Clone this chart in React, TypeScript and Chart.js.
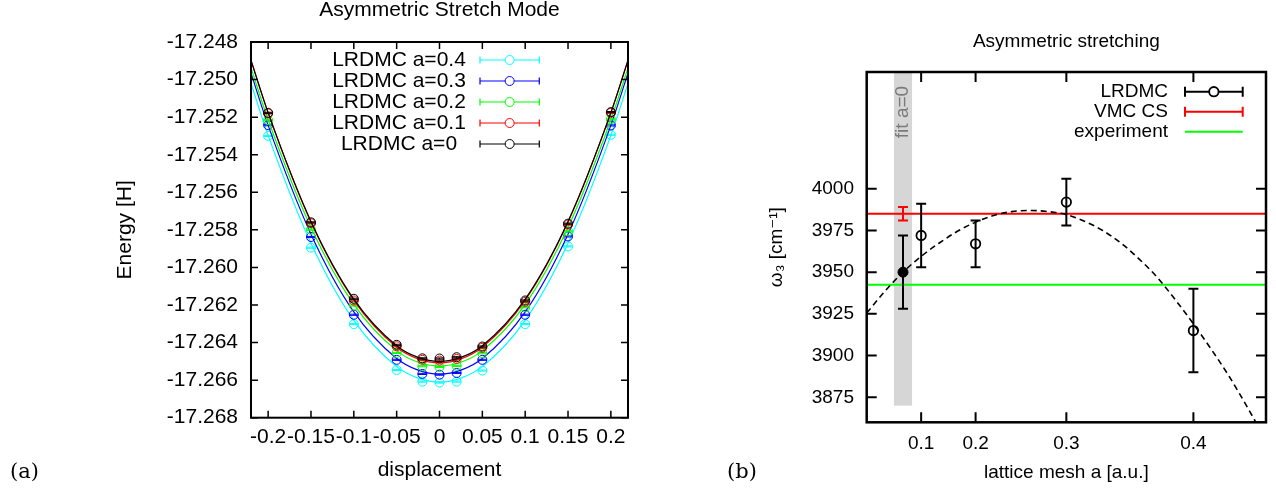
import React, { useEffect, useRef } from "react";
import { Chart, registerables } from "chart.js";

Chart.register(...registerables);

const FONT = "'Liberation Sans', Arial, 'DejaVu Sans', sans-serif";
Chart.defaults.font.family = FONT;
Chart.defaults.color = "#000";

// ---------------- Panel (a): Asymmetric Stretch Mode ----------------
const DISP = [-0.2, -0.15, -0.1, -0.05, -0.02, 0, 0.02, 0.05, 0.1, 0.15, 0.2];
const E_A0 = [-17.25177, -17.2576, -17.26167, -17.26412, -17.26484, -17.26485, -17.26478, -17.26421, -17.26176, -17.25767, -17.25173];
const E_A01 = [-17.2518, -17.25765, -17.26176, -17.2642, -17.26492, -17.26496, -17.26487, -17.26428, -17.26183, -17.25772, -17.25177];
const E_A02 = [-17.25216, -17.25799, -17.26203, -17.26455, -17.26526, -17.2653, -17.26524, -17.26457, -17.26212, -17.25808, -17.25212];
const E_A03 = [-17.25243, -17.25838, -17.26252, -17.26492, -17.26567, -17.26571, -17.26562, -17.26492, -17.26252, -17.25835, -17.25244];
const E_A04 = [-17.253, -17.25895, -17.26302, -17.26546, -17.26608, -17.26613, -17.26608, -17.26549, -17.26302, -17.25888, -17.25294];
const E_ERR = 0.00003;

const FIT_X = [-0.22, -0.2, -0.15, -0.1, -0.05, -0.025, 0, 0.025, 0.05, 0.1, 0.15, 0.2, 0.22];
const FIT_A0 = [-17.24898, -17.25176, -17.25755, -17.26169, -17.26417, -17.26479, -17.265, -17.26479, -17.26417, -17.26169, -17.25755, -17.25176, -17.24898];
const FIT_A01 = [-17.24897, -17.25177, -17.25759, -17.26175, -17.26425, -17.26487, -17.26508, -17.26487, -17.26425, -17.26175, -17.25759, -17.25177, -17.24897];
const FIT_A02 = [-17.24938, -17.25214, -17.25787, -17.26197, -17.26443, -17.26505, -17.26525, -17.26505, -17.26443, -17.26197, -17.25787, -17.25214, -17.24938];
const FIT_A03 = [-17.24966, -17.25244, -17.25823, -17.26237, -17.26485, -17.26547, -17.26568, -17.26547, -17.26485, -17.26237, -17.25823, -17.25244, -17.24966];
const FIT_A04 = [-17.25021, -17.25297, -17.25871, -17.26282, -17.26528, -17.26589, -17.2661, -17.26589, -17.26528, -17.26282, -17.25871, -17.25297, -17.25021];

const DISP_TICKS = [-0.2, -0.15, -0.1, -0.05, 0, 0.05, 0.1, 0.15, 0.2];
const ENERGY_TICKS = [-17.268, -17.266, -17.264, -17.262, -17.26, -17.258, -17.256, -17.254, -17.252, -17.25, -17.248];

// ---------------- Panel (b): Asymmetric stretching ----------------
const MESH_A = [0.1, 0.2, 0.3, 0.4];
const OMEGA = [3972, 3967, 3992, 3915];
const OMEGA_ERR = [19, 14, 14, 25];
const OMEGA_A0 = [3950];
const OMEGA_A0_ERR = [22];
const VMC_CS = [3985];
const VMC_CS_ERR = [4];
const EXPERIMENT = 3942.5;
// dashed fit curve, x in units of a^2
const FIT_CURVE_A2 = [-0.02, -0.01, 0, 0.01, 0.02, 0.03, 0.04, 0.05, 0.06, 0.07, 0.08, 0.09, 0.1, 0.11, 0.12, 0.13, 0.14, 0.15, 0.16, 0.17, 0.18, 0.19, 0.2];
const FIT_CURVE_W = [3925.5, 3938.5, 3950, 3959.5, 3967.5, 3974.5, 3980, 3984, 3986.3, 3987, 3986.3, 3984.5, 3980.5, 3975, 3967.5, 3958, 3947, 3933.5, 3919, 3903.5, 3887, 3868.5, 3849];
const MESH_TICKS = [0.1, 0.2, 0.3, 0.4];
const OMEGA_TICKS = [3875, 3900, 3925, 3950, 3975, 4000];
const BAND_A2 = [-0.005, 0.005];
const BAND_BOTTOM = 3870;

// ---------------- plugins ----------------
const errPlugin = {
  id: "errBars",
  afterDatasetDraw(chart: any, args: any) {
    const ds = chart.data.datasets[args.index];
    if (!ds.errors) return;
    const { ctx, chartArea } = chart;
    const ys = chart.scales.y;
    ctx.save();
    ctx.beginPath();
    ctx.rect(chartArea.left, chartArea.top, chartArea.right - chartArea.left, chartArea.bottom - chartArea.top);
    ctx.clip();
    ctx.strokeStyle = ds.borderColor;
    ctx.lineWidth = ds.errorWidth || 1;
    args.meta.data.forEach((el: any, j: number) => {
      const p = ds.data[j];
      const e = ds.errors[j];
      const y0 = ys.getPixelForValue(p.y - e);
      const y1 = ys.getPixelForValue(p.y + e);
      const x = el.x;
      const c = ds.capHalf || 4;
      ctx.beginPath();
      ctx.moveTo(x, y0); ctx.lineTo(x, y1);
      ctx.moveTo(x - c, y0); ctx.lineTo(x + c, y0);
      ctx.moveTo(x - c, y1); ctx.lineTo(x + c, y1);
      ctx.stroke();
    });
    ctx.restore();
  },
};

const framePlugin = {
  id: "gnuFrame",
  afterDatasetsDraw(chart: any, _a: any, opts: any) {
    const { ctx, chartArea } = chart;
    const { left, right, top, bottom } = chartArea;
    const xs = chart.scales.x, ys = chart.scales.y;
    const L = opts.tickLen;
    ctx.save();
    ctx.strokeStyle = "#000";
    ctx.lineWidth = opts.tickWidth;
    ctx.beginPath();
    for (const t of xs.ticks) {
      const px = xs.getPixelForValue(t.value);
      ctx.moveTo(px, bottom); ctx.lineTo(px, bottom - L);
      ctx.moveTo(px, top); ctx.lineTo(px, top + L);
    }
    for (const t of ys.ticks) {
      const py = ys.getPixelForValue(t.value);
      ctx.moveTo(left, py); ctx.lineTo(left + L, py);
      ctx.moveTo(right, py); ctx.lineTo(right - L, py);
    }
    ctx.stroke();
    ctx.lineWidth = opts.frameWidth;
    ctx.strokeRect(left, top, right - left, bottom - top);
    ctx.restore();
  },
};

const keyPlugin = {
  id: "gnuKey",
  afterDraw(chart: any, _a: any, opts: any) {
    const ctx = chart.ctx;
    ctx.save();
    ctx.font = `${opts.fontSize}px ${FONT}`;
    ctx.textBaseline = "middle";
    ctx.textAlign = opts.textAlign;
    const entries: number[] = opts.entries;
    for (let row = 0; row < entries.length; row++) {
      const ds = chart.data.datasets[entries[row]];
      const y = opts.top + row * opts.rowH;
      ctx.fillStyle = "#000";
      ctx.fillText(ds.label, opts.textX, y);
      ctx.strokeStyle = ds.borderColor;
      ctx.lineWidth = opts.lineWidth;
      ctx.beginPath();
      ctx.moveTo(opts.x0, y); ctx.lineTo(opts.x1, y);
      if (ds.errors) {
        ctx.moveTo(opts.x0, y - opts.capH); ctx.lineTo(opts.x0, y + opts.capH);
        ctx.moveTo(opts.x1, y - opts.capH); ctx.lineTo(opts.x1, y + opts.capH);
      }
      ctx.stroke();
      if (ds.pointRadius > 0) {
        const cx = (opts.x0 + opts.x1) / 2;
        ctx.beginPath();
        ctx.arc(cx, y, ds.pointRadius, 0, Math.PI * 2);
        ctx.fillStyle = "#fff";
        ctx.fill();
        ctx.lineWidth = ds.pointBorderWidth;
        ctx.stroke();
      }
    }
    ctx.restore();
  },
};

const bandPlugin = {
  id: "fitBand",
  beforeDatasetsDraw(chart: any, _a: any, opts: any) {
    const { ctx, chartArea } = chart;
    const xs = chart.scales.x, ys = chart.scales.y;
    const xa = xs.getPixelForValue(BAND_A2[0]);
    const xb = xs.getPixelForValue(BAND_A2[1]);
    const yb = ys.getPixelForValue(BAND_BOTTOM);
    ctx.save();
    ctx.fillStyle = "#d6d6d6";
    ctx.fillRect(xa, chartArea.top, xb - xa, yb - chartArea.top);
    ctx.translate((xa + xb) / 2, ys.getPixelForValue(opts.textValue));
    ctx.rotate(-Math.PI / 2);
    ctx.font = `${opts.fontSize}px ${FONT}`;
    ctx.fillStyle = "#7a7a7a";
    ctx.textAlign = "center";
    ctx.textBaseline = "middle";
    ctx.fillText(opts.text, 0, 0);
    ctx.restore();
  },
};

function fmtDisp(v: number) {
  const n = Number(v);
  if (Math.abs(n) < 1e-9) return "0";
  return String(parseFloat(n.toFixed(2)));
}

function leftConfig(): any {
  const series = [
    { label: "LRDMC a=0", color: "#000000", e: E_A0, fit: FIT_A0 },
    { label: "LRDMC a=0.1", color: "#ff0000", e: E_A01, fit: FIT_A01 },
    { label: "LRDMC a=0.2", color: "#00ff00", e: E_A02, fit: FIT_A02 },
    { label: "LRDMC a=0.3", color: "#0000ff", e: E_A03, fit: FIT_A03 },
    { label: "LRDMC a=0.4", color: "#00ffff", e: E_A04, fit: FIT_A04 },
  ];
  const datasets: any[] = [];
  series.forEach((s) => {
    datasets.push({
      label: s.label,
      data: DISP.map((x, i) => ({ x, y: s.e[i] })),
      showLine: false,
      borderColor: s.color,
      backgroundColor: "rgba(0,0,0,0)",
      pointBorderColor: s.color,
      pointBackgroundColor: "rgba(0,0,0,0)",
      pointRadius: 4.5,
      pointBorderWidth: 1,
      errors: DISP.map(() => E_ERR),
      errorWidth: 1,
      capHalf: 4.5,
    });
    datasets.push({
      label: s.label + " fit",
      data: FIT_X.map((x, i) => ({ x, y: s.fit[i] })),
      showLine: true,
      borderColor: s.color,
      borderWidth: 1.2,
      pointRadius: 0,
      cubicInterpolationMode: "monotone",
      fill: false,
    });
  });
  return {
    type: "scatter",
    data: { datasets },
    options: {
      responsive: false,
      animation: false,
      events: [],
      layout: { padding: { left: 0, right: 12, top: 0, bottom: 0 } },
      plugins: {
        legend: { display: false },
        tooltip: { enabled: false },
        title: {
          display: true,
          text: "Asymmetric Stretch Mode",
          fullSize: false,
          color: "#000",
          font: { size: 21, weight: "normal", lineHeight: 1 },
          padding: { top: 0, bottom: 21 },
        },
        gnuFrame: { frameWidth: 2, tickWidth: 1.5, tickLen: 7 },
        gnuKey: {
          entries: [8, 6, 4, 2, 0],
          fontSize: 21,
          textAlign: "center",
          textX: 399,
          top: 60,
          rowH: 21,
          x0: 480,
          x1: 539.3,
          capH: 3.5,
          lineWidth: 1.2,
        },
      },
      scales: {
        x: {
          type: "linear",
          min: -0.22,
          max: 0.22,
          afterBuildTicks: (s: any) => {
            s.ticks = DISP_TICKS.map((v) => ({ value: v }));
          },
          afterFit: (s: any) => {
            s.height = 78.3;
          },
          grid: { display: false, drawTicks: false },
          border: { display: false },
          ticks: {
            autoSkip: false,
            maxRotation: 0,
            minRotation: 0,
            padding: 7,
            color: "#000",
            font: { size: 21 },
            callback: (v: any) => fmtDisp(v),
          },
          title: {
            display: true,
            text: "displacement",
            color: "#000",
            font: { size: 21 },
            padding: { top: 0, bottom: 13.4 },
          },
        },
        y: {
          type: "linear",
          min: -17.268,
          max: -17.248,
          afterBuildTicks: (s: any) => {
            s.ticks = ENERGY_TICKS.map((v) => ({ value: v }));
          },
          afterFit: (s: any) => {
            s.width = 251;
          },
          grid: { display: false, drawTicks: false },
          border: { display: false },
          ticks: {
            padding: 13,
            color: "#000",
            font: { size: 21 },
            callback: (v: any) => Number(v).toFixed(3),
          },
          title: {
            display: true,
            text: "Energy [H]",
            color: "#000",
            font: { size: 21 },
            padding: { top: 113, bottom: 0 },
          },
        },
      },
    },
    plugins: [errPlugin, framePlugin, keyPlugin],
  };
}

function rightConfig(): any {
  const datasets: any[] = [
    {
      label: "LRDMC",
      data: MESH_A.map((a, i) => ({ x: a * a, y: OMEGA[i] })),
      showLine: false,
      borderColor: "#000",
      pointBorderColor: "#000",
      pointBackgroundColor: "rgba(0,0,0,0)",
      backgroundColor: "rgba(0,0,0,0)",
      pointRadius: 4.7,
      pointBorderWidth: 1.8,
      errors: OMEGA_ERR,
      errorWidth: 2,
      capHalf: 5,
    },
    {
      label: "LRDMC a=0 (fit)",
      data: [{ x: 0, y: OMEGA_A0[0] }],
      showLine: false,
      borderColor: "#000",
      pointBorderColor: "#000",
      pointBackgroundColor: "#000",
      pointRadius: 5,
      pointBorderWidth: 1,
      errors: OMEGA_A0_ERR,
      errorWidth: 2,
      capHalf: 5,
    },
    {
      label: "VMC CS",
      data: [{ x: 0, y: VMC_CS[0] }],
      showLine: false,
      borderColor: "#ff0000",
      pointRadius: 0,
      errors: VMC_CS_ERR,
      errorWidth: 2,
      capHalf: 5,
    },
    {
      label: "fit",
      data: FIT_CURVE_A2.map((x, i) => ({ x, y: FIT_CURVE_W[i] })),
      showLine: true,
      borderColor: "#000",
      borderWidth: 1.6,
      borderDash: [6, 4],
      pointRadius: 0,
      cubicInterpolationMode: "monotone",
      fill: false,
    },
    {
      label: "VMC CS line",
      data: [{ x: -0.02, y: VMC_CS[0] }, { x: 0.2, y: VMC_CS[0] }],
      showLine: true,
      borderColor: "#ff0000",
      borderWidth: 2,
      pointRadius: 0,
      fill: false,
    },
    {
      label: "experiment",
      data: [{ x: -0.02, y: EXPERIMENT }, { x: 0.2, y: EXPERIMENT }],
      showLine: true,
      borderColor: "#00ff00",
      borderWidth: 2,
      pointRadius: 0,
      fill: false,
    },
  ];
  return {
    type: "scatter",
    data: { datasets },
    options: {
      responsive: false,
      animation: false,
      events: [],
      layout: { padding: { left: 0, right: 10, top: 0, bottom: 0 } },
      plugins: {
        legend: { display: false },
        tooltip: { enabled: false },
        title: {
          display: true,
          text: "Asymmetric stretching",
          fullSize: false,
          color: "#000",
          font: { size: 19, weight: "normal", lineHeight: 1 },
          padding: { top: 32.5, bottom: 20.5 },
        },
        gnuFrame: { frameWidth: 2.5, tickWidth: 2, tickLen: 10 },
        gnuKey: {
          entries: [0, 2, 5],
          fontSize: 19,
          textAlign: "right",
          textX: 528,
          top: 91.7,
          rowH: 20,
          x0: 545,
          x1: 602.7,
          capH: 5,
          lineWidth: 2,
        },
        fitBand: { text: "fit a=0", textValue: 4046, fontSize: 19 },
      },
      scales: {
        x: {
          type: "linear",
          min: -0.02,
          max: 0.2,
          afterBuildTicks: (s: any) => {
            s.ticks = MESH_TICKS.map((a) => ({ value: a * a }));
          },
          afterFit: (s: any) => {
            s.height = 73.7;
          },
          grid: { display: false, drawTicks: false },
          border: { display: false },
          ticks: {
            autoSkip: false,
            maxRotation: 0,
            minRotation: 0,
            padding: 9.6,
            color: "#000",
            font: { size: 19 },
            callback: (_v: any, i: number) => MESH_TICKS[i].toFixed(1),
          },
          title: {
            display: true,
            text: "lattice mesh a [a.u.]",
            color: "#000",
            font: { size: 19 },
            padding: { top: 0, bottom: 11.6 },
          },
        },
        y: {
          type: "linear",
          min: 3860,
          max: 4070,
          afterBuildTicks: (s: any) => {
            s.ticks = OMEGA_TICKS.map((v) => ({ value: v }));
          },
          afterFit: (s: any) => {
            s.width = 226.7;
          },
          grid: { display: false, drawTicks: false },
          border: { display: false },
          ticks: {
            padding: 12.7,
            color: "#000",
            font: { size: 19 },
            callback: (v: any) => String(v),
          },
          title: {
            display: true,
            text: "ω₃ [cm⁻¹]",
            color: "#000",
            font: { size: 19 },
            padding: { top: 125, bottom: 0 },
          },
        },
      },
    },
    plugins: [bandPlugin, errPlugin, framePlugin, keyPlugin],
  };
}

export default function App() {
  const leftRef = useRef<HTMLCanvasElement>(null);
  const rightRef = useRef<HTMLCanvasElement>(null);
  useEffect(() => {
    const c1 = new Chart(leftRef.current as HTMLCanvasElement, leftConfig());
    const c2 = new Chart(rightRef.current as HTMLCanvasElement, rightConfig());
    return () => {
      c1.destroy();
      c2.destroy();
    };
  }, []);
  const panelLabel: React.CSSProperties = {
    position: "absolute",
    top: 459,
    fontFamily: "'DejaVu Serif', 'Liberation Serif', serif",
    fontSize: 21,
    lineHeight: "24px",
    color: "#000",
  };
  return (
    <div style={{ position: "absolute", left: 0, top: 0, width: 1276, height: 496, background: "#fff", overflow: "hidden" }}>
      <canvas ref={leftRef} width={640} height={496} style={{ position: "absolute", left: 0, top: 0, width: 640, height: 496 }} />
      <canvas ref={rightRef} width={636} height={496} style={{ position: "absolute", left: 640, top: 0, width: 636, height: 496 }} />
      <span style={{ ...panelLabel, left: 10 }}>(a)</span>
      <span style={{ ...panelLabel, left: 727 }}>(b)</span>
    </div>
  );
}
